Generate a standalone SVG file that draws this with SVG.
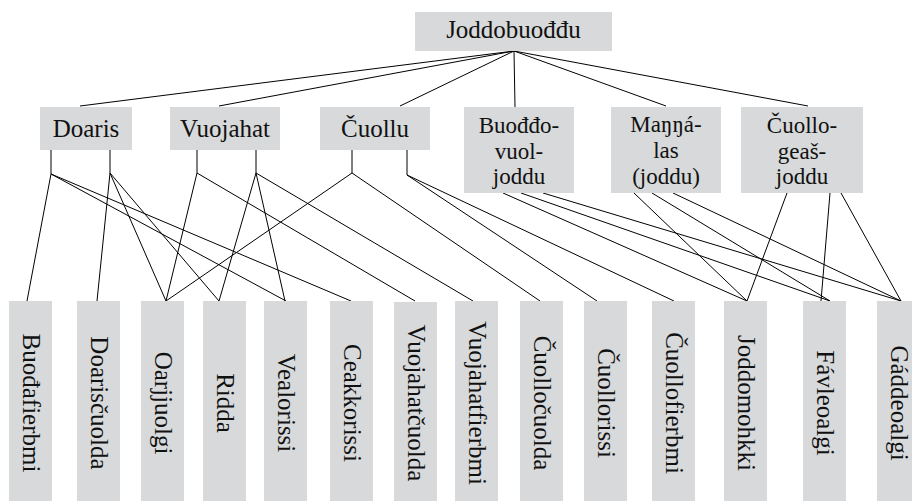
<svg xmlns="http://www.w3.org/2000/svg" width="912" height="501" viewBox="0 0 912 501">
<style>
.box{fill:#d7d9da;stroke:none}
.t{font-family:"Liberation Serif","DejaVu Serif",serif;font-size:25px;fill:#111;text-anchor:middle}
.m{font-size:23px}
.c line{stroke:#000;stroke-width:1;fill:none}
</style>
<rect width="912" height="501" fill="#fff"/>
<g class="c" id="connectors">
<line x1="514" y1="51" x2="80" y2="106"/>
<line x1="514" y1="51" x2="219" y2="106"/>
<line x1="514" y1="51" x2="400" y2="106"/>
<line x1="514" y1="51" x2="515" y2="107"/>
<line x1="514" y1="51" x2="666" y2="106"/>
<line x1="514" y1="51" x2="808" y2="106"/>
<line x1="51" y1="150" x2="51" y2="174"/>
<line x1="110" y1="150" x2="110" y2="173"/>
<line x1="197" y1="150" x2="197" y2="173"/>
<line x1="256" y1="150" x2="256" y2="173"/>
<line x1="352" y1="150" x2="352" y2="173"/>
<line x1="407" y1="150" x2="407" y2="175"/>
<line x1="51" y1="174" x2="27" y2="301"/>
<line x1="51" y1="174" x2="286" y2="301"/>
<line x1="51" y1="174" x2="351" y2="301"/>
<line x1="110" y1="173" x2="97" y2="301"/>
<line x1="110" y1="173" x2="166" y2="301"/>
<line x1="110" y1="173" x2="219" y2="301"/>
<line x1="197" y1="173" x2="166" y2="301"/>
<line x1="197" y1="173" x2="415" y2="301"/>
<line x1="256" y1="173" x2="219" y2="301"/>
<line x1="256" y1="173" x2="285" y2="301"/>
<line x1="256" y1="173" x2="473" y2="301"/>
<line x1="352" y1="173" x2="166" y2="301"/>
<line x1="352" y1="173" x2="540" y2="301"/>
<line x1="407" y1="175" x2="597" y2="301"/>
<line x1="407" y1="175" x2="674" y2="301"/>
<line x1="503" y1="193" x2="747" y2="301"/>
<line x1="521" y1="193" x2="830" y2="301"/>
<line x1="543" y1="193" x2="901" y2="301"/>
<line x1="634" y1="193" x2="747" y2="301"/>
<line x1="652" y1="193" x2="830" y2="301"/>
<line x1="673" y1="193" x2="901" y2="301"/>
<line x1="787" y1="193" x2="747" y2="301"/>
<line x1="830" y1="193" x2="821" y2="301"/>
<line x1="841" y1="193" x2="901" y2="301"/>
</g>
<g id="root"><rect class="box" x="415" y="12" width="197" height="39"/><text class="t" x="513.5" y="38">Joddobuođđu</text></g>
<g id="doaris"><rect class="box" x="40" y="107" width="92" height="43"/><text class="t" x="86" y="137">Doaris</text></g>
<g id="vuojahat"><rect class="box" x="170" y="107" width="110" height="43"/><text class="t" x="225" y="137">Vuojahat</text></g>
<g id="cuollu"><rect class="box" x="320" y="107" width="110" height="43"/><text class="t" x="375" y="137">Čuollu</text></g>
<g id="buoddovuoljoddu"><rect class="box" x="464" y="107" width="110" height="86"/><text class="t m" x="519" y="133">Buođđo-</text><text class="t m" x="519" y="158.5">vuol-</text><text class="t m" x="519" y="184">joddu</text></g>
<g id="mannalas"><rect class="box" x="611" y="107" width="110" height="86"/><text class="t m" x="666" y="132">Maŋŋá-</text><text class="t m" x="666" y="158">las</text><text class="t m" x="666" y="184">(joddu)</text></g>
<g id="cuollogeasjoddu"><rect class="box" x="741" y="107" width="122" height="86"/><text class="t m" x="802" y="133">Čuollo-</text><text class="t m" x="802" y="158.5">geaš-</text><text class="t m" x="802" y="184">joddu</text></g>
<g id="l1"><rect class="box" x="9" y="301" width="43" height="204"/><text class="t" transform="translate(22.5,403) rotate(90)">Buođafierbmi</text></g>
<g id="l2"><rect class="box" x="77" y="301" width="43" height="204"/><text class="t" transform="translate(90.5,403) rotate(90)">Doarisčuolda</text></g>
<g id="l3"><rect class="box" x="141" y="301" width="43" height="204"/><text class="t" transform="translate(154.5,403) rotate(90)">Oarjjuolgi</text></g>
<g id="l4"><rect class="box" x="203" y="301" width="43" height="204"/><text class="t" transform="translate(216.5,403) rotate(90)">Ridda</text></g>
<g id="l5"><rect class="box" x="264" y="301" width="43" height="204"/><text class="t" transform="translate(277.5,403) rotate(90)">Vealorissi</text></g>
<g id="l6"><rect class="box" x="330" y="301" width="43" height="204"/><text class="t" transform="translate(343.5,403) rotate(90)">Ceakkorissi</text></g>
<g id="l7"><rect class="box" x="394" y="302" width="43" height="204"/><text class="t" transform="translate(407.5,403) rotate(90)">Vuojahatčuolda</text></g>
<g id="l8"><rect class="box" x="455" y="301" width="43" height="204"/><text class="t" transform="translate(468.5,403) rotate(90)">Vuojahatfierbmi</text></g>
<g id="l9"><rect class="box" x="520" y="301" width="43" height="204"/><text class="t" transform="translate(533.5,403) rotate(90)">Čuolločuolda</text></g>
<g id="l10"><rect class="box" x="584" y="301" width="43" height="204"/><text class="t" transform="translate(597.5,403) rotate(90)">Čuollorissi</text></g>
<g id="l11"><rect class="box" x="652" y="301" width="43" height="204"/><text class="t" transform="translate(665.5,403) rotate(90)">Čuollofierbmi</text></g>
<g id="l12"><rect class="box" x="724" y="301" width="43" height="204"/><text class="t" transform="translate(737.5,403) rotate(90)">Joddomohkki</text></g>
<g id="l13"><rect class="box" x="803" y="301" width="43" height="204"/><text class="t" transform="translate(816.5,403) rotate(90)">Fávleoalgi</text></g>
<g id="l14"><rect class="box" x="877" y="301" width="43" height="204"/><text class="t" transform="translate(890.5,403) rotate(90)">Gáddeoalgi</text></g>
</svg>
